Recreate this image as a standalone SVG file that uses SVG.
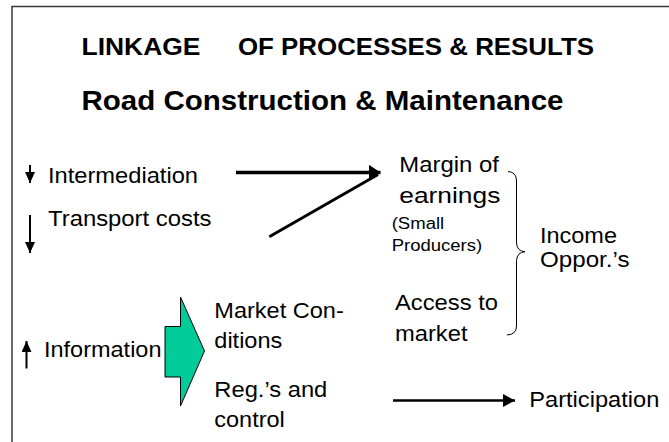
<svg xmlns="http://www.w3.org/2000/svg" width="669" height="442" viewBox="0 0 669 442">
<style>
  text { font-family: "Liberation Sans", Arial, sans-serif; fill: #000; }
  .t1 { font-size: 24.5px; font-weight: bold; }
  .t2 { font-size: 28px; font-weight: bold; }
  .lbl { font-size: 22px; }
  .sm { font-size: 16px; }
  .ln { stroke: #000; fill: none; }
  .frame { stroke: #3a3a3a; stroke-width: 1.5; fill: none; }
</style>
<defs>
  <marker id="ahBig" markerUnits="userSpaceOnUse" markerWidth="14" markerHeight="16" refX="12" refY="8" orient="auto">
    <path d="M0,0 L12,8 L0,16 Z" fill="#000"/>
  </marker>
  <marker id="ahMed" markerUnits="userSpaceOnUse" markerWidth="14" markerHeight="14" refX="12" refY="6.5" orient="auto">
    <path d="M0,0 L12,6.5 L0,13 Z" fill="#000"/>
  </marker>
  <marker id="ahSm" markerUnits="userSpaceOnUse" markerWidth="12" markerHeight="11" refX="11" refY="5" orient="auto">
    <path d="M0,0 L11,5 L0,10 Z" fill="#000"/>
  </marker>
</defs>
<rect width="669" height="442" fill="#fff"/>
<path class="frame" d="M12,442 V6.5 H669"/>

<g id="title">
  <text class="t1" x="81.5" y="55" textLength="119" lengthAdjust="spacingAndGlyphs">LINKAGE</text>
  <text class="t1" x="238" y="55" textLength="356" lengthAdjust="spacingAndGlyphs">OF PROCESSES &amp; RESULTS</text>
  <text class="t2" x="81.5" y="110" textLength="482" lengthAdjust="spacingAndGlyphs">Road Construction &amp; Maintenance</text>
</g>

<g id="intermediation">
  <line class="ln" x1="30" y1="165" x2="30" y2="183" stroke-width="2" marker-end="url(#ahSm)"/>
  <text class="lbl" x="48" y="182.7" textLength="150" lengthAdjust="spacingAndGlyphs">Intermediation</text>
</g>

<g id="transport">
  <line class="ln" x1="30" y1="215" x2="30" y2="253" stroke-width="2" marker-end="url(#ahSm)"/>
  <text class="lbl" x="48" y="226" textLength="163.5" lengthAdjust="spacingAndGlyphs">Transport costs</text>
</g>

<g id="information">
  <line class="ln" x1="26.5" y1="368.5" x2="26.5" y2="341" stroke-width="2" marker-end="url(#ahSm)"/>
  <text class="lbl" x="44" y="357.3" textLength="117.5" lengthAdjust="spacingAndGlyphs">Information</text>
</g>

<g id="block-arrow">
  <polygon points="165,326.5 180.5,326.5 180.5,297 204.5,351 180.5,406 180.5,377 165,377" fill="#00CC99" stroke="#000" stroke-width="1"/>
</g>

<g id="market-conditions">
  <text class="lbl" x="214.3" y="318.3" textLength="129.5" lengthAdjust="spacingAndGlyphs">Market Con-</text>
  <text class="lbl" x="214.3" y="348.3" textLength="68" lengthAdjust="spacingAndGlyphs">ditions</text>
</g>

<g id="regs-control">
  <text class="lbl" x="214.3" y="396.5" textLength="113" lengthAdjust="spacingAndGlyphs">Reg.’s and</text>
  <text class="lbl" x="214.3" y="426.5" textLength="70.5" lengthAdjust="spacingAndGlyphs">control</text>
</g>

<g id="margin">
  <text class="lbl" x="399.3" y="171.7" textLength="99.5" lengthAdjust="spacingAndGlyphs">Margin of</text>
  <text class="lbl" x="399.3" y="202.7" textLength="101" lengthAdjust="spacingAndGlyphs">earnings</text>
  <text class="sm" x="391.7" y="229.3" textLength="52.5" lengthAdjust="spacingAndGlyphs">(Small</text>
  <text class="sm" x="391.7" y="250.5" textLength="90.5" lengthAdjust="spacingAndGlyphs">Producers)</text>
</g>

<g id="access">
  <text class="lbl" x="395" y="310" textLength="103" lengthAdjust="spacingAndGlyphs">Access to</text>
  <text class="lbl" x="395" y="341" textLength="72.5" lengthAdjust="spacingAndGlyphs">market</text>
</g>

<g id="income">
  <text class="lbl" x="540" y="243.3" textLength="77" lengthAdjust="spacingAndGlyphs">Income</text>
  <text class="lbl" x="540" y="266.5" textLength="89.5" lengthAdjust="spacingAndGlyphs">Oppor.’s</text>
</g>

<g id="participation">
  <text class="lbl" x="529.3" y="406.7" textLength="130" lengthAdjust="spacingAndGlyphs">Participation</text>
</g>

<g id="connectors">
  <line class="ln" x1="236" y1="172.5" x2="380.5" y2="172.5" stroke-width="3.5" marker-end="url(#ahBig)"/>
  <line class="ln" x1="269.3" y1="236.7" x2="378" y2="174.5" stroke-width="3"/>
  <line class="ln" x1="393" y1="400.5" x2="515" y2="400.5" stroke-width="2.5" marker-end="url(#ahMed)"/>
  <path class="ln" stroke-width="1" d="M508,171.5 Q516.5,172 516.5,181 L516.5,243 Q517,251.2 525,251.7 Q517,252.3 516.5,260.5 L516.5,326 Q516.5,334.5 507,335"/>
</g>
</svg>
